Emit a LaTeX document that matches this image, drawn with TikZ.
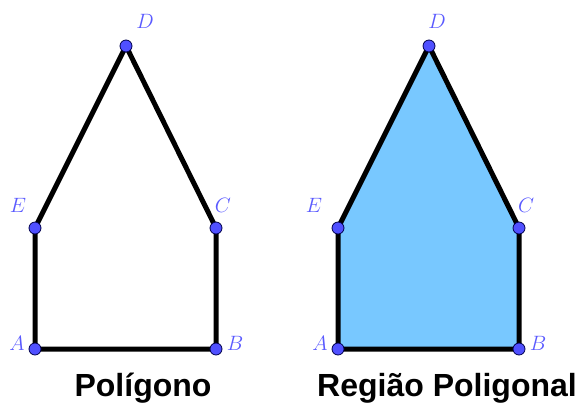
\documentclass[tikz,border=0pt]{standalone}
\usepackage{fontspec}
\setsansfont{Liberation Sans}
\begin{document}
\begin{tikzpicture}[x=1pt,y=-1pt,
  edge/.style={line width=5pt,line join=round,line cap=round},
  pt/.style={circle,fill={rgb,255:red,80;green,80;blue,255},draw=black!70!blue,line width=0.8pt,inner sep=0pt,minimum size=12pt},
  lab/.style={text={rgb,255:red,90;green,90;blue,255},font=\fontsize{22}{22}\selectfont,inner sep=0pt},
  title/.style={font=\sffamily\bfseries\fontsize{32}{32}\selectfont,inner sep=0pt}]
\useasboundingbox (0,0) rectangle (577,405);
% left polygon
\coordinate (A1) at (35,349);
\coordinate (B1) at (216,349);
\coordinate (C1) at (216,228);
\coordinate (D1) at (126,46);
\coordinate (E1) at (35,228);
\draw[edge] (A1) -- (B1) -- (C1) -- (D1) -- (E1) -- cycle;
% right polygon
\coordinate (A2) at (338,349);
\coordinate (B2) at (519,349);
\coordinate (C2) at (519,228);
\coordinate (D2) at (429,46);
\coordinate (E2) at (338,228);
\draw[edge,fill={rgb,255:red,120;green,200;blue,255}] (A2) -- (B2) -- (C2) -- (D2) -- (E2) -- cycle;
\foreach \p in {A1,B1,C1,D1,E1,A2,B2,C2,D2,E2} \node[pt] (n\p) at (\p) {};
% labels
\node[lab] (lA1) at (17,343) {$A$};
\node[lab] (lB1) at (235,343) {$B$};
\node[lab] (lC1) at (223,205) {$C$};
\node[lab] (lD1) at (145,21) {$D$};
\node[lab] (lE1) at (18,205) {$E$};
\node[lab] (lA2) at (320,343) {$A$};
\node[lab] (lB2) at (538,343) {$B$};
\node[lab] (lC2) at (526,205) {$C$};
\node[lab] (lD2) at (437,21) {$D$};
\node[lab] (lE2) at (314,205) {$E$};
\node[title] (t1) at (143,388) {Polígono};
\node[title] (t2) at (447,388) {Região Poligonal};
\end{tikzpicture}
\end{document}
